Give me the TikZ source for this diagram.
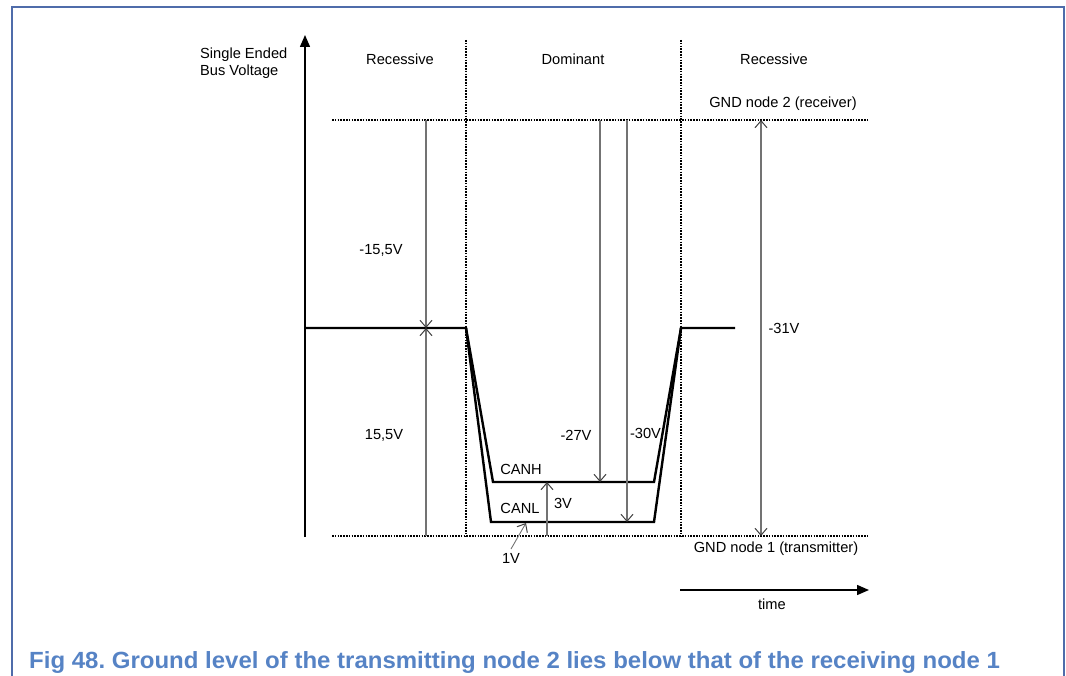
\documentclass[tikz,border=0pt]{standalone}
\usepackage{fontspec}
\setmainfont{Liberation Sans}
\usetikzlibrary{arrows.meta}

\definecolor{framecol}{RGB}{79,108,170}
\definecolor{capcol}{RGB}{86,131,197}
\definecolor{dimcol}{RGB}{115,115,115}

\begin{document}
\begin{tikzpicture}[
  x=1bp, y=-1bp,
  font=\fontsize{14.7}{17}\selectfont,
  % --- line styles ---
  frame/.style={draw=framecol, line width=1.3bp},
  axis/.style={line width=1.5bp, -{Triangle[length=12bp, width=10bp]}},
  level/.style={dash pattern=on 1.6bp off 1.2bp, line width=1.2bp},
  sig/.style={line width=2.4bp, line join=miter},
  dim/.style={draw=dimcol, line width=1.3bp},
  tip/.style={-{Straight Barb[length=7bp, width=12bp, line width=1bp, color=black!75]}},
  tips/.style={{Straight Barb[length=7bp, width=12bp, line width=1bp, color=black!75]}-{Straight Barb[length=7bp, width=12bp, line width=1bp, color=black!75]}},
  lbl/.style={inner sep=0pt},
]
\useasboundingbox (0,0) rectangle (1066,676);

% ══════════════════════════════════════════════
% FRAME AND CAPTION
% ══════════════════════════════════════════════

\coordinate (fbl) at (12,676);
\coordinate (ftr) at (1064,7);
\draw[frame] (fbl) |- (ftr) -- (ftr |- fbl);

\node[lbl, anchor=base west, text=capcol,
  font=\fontsize{23.5}{25}\bfseries\frenchspacing] (cap) at (29,668)
  {\scalebox{1.025}[1]{Fig 48. Ground level of the transmitting node 2 lies below that of the receiving node 1}};

% ══════════════════════════════════════════════
% AXES AND REFERENCE LEVELS
% ══════════════════════════════════════════════

\coordinate (ybot) at (305,537);
\coordinate (ytop) at (305,35);
\draw[axis] (ybot) -- (ytop);
\node[lbl, align=left, anchor=west] (ylab) at (200,63)
  {Single Ended\\Bus Voltage};

% ground levels
\coordinate (g2l) at (332,120);
\coordinate (g2r) at (869,120);
\coordinate (g1l) at (332,536);
\coordinate (g1r) at (869,536);
\draw[level] (g2l) -- (g2r);
\draw[level] (g1l) -- (g1r);
\node[lbl] (g2lab) at (783,104) {GND node 2 (receiver)};
\node[lbl] (g1lab) at (776,549) {GND node 1 (transmitter)};

% phase borders
\coordinate (b1) at (466,40);
\coordinate (b2) at (681,40);
\draw[level] (b1) -- (b1 |- g1l);
\draw[level] (b2) -- (b2 |- g1l);
\node[lbl] (rec1) at (400,59) {Recessive};
\node[lbl] (dom)  at (573,59) {Dominant};
\node[lbl] (rec2) at (774,59) {Recessive};

% time arrow
\coordinate (t0) at (680,590);
\coordinate (t1) at (869,590);
\draw[axis] (t0) -- (t1);
\node[lbl] (tlab) at (772,604) {time};

% ══════════════════════════════════════════════
% BUS SIGNALS
% ══════════════════════════════════════════════

\coordinate (r0) at (305,328);
\coordinate (r1) at (466,328);
\coordinate (r2) at (681,328);
\coordinate (r3) at (735,328);
\coordinate (h1) at (493,482);
\coordinate (h2) at (654,482);
\coordinate (l1) at (491,522);
\coordinate (l2) at (654,522);

\draw[sig] (r0) -- (r1) -- (h1) -- (h2) -- (r2) -- (r3);
\draw[sig] (r1) -- (l1) -- (l2) -- (r2);
\node[lbl] (canh) at (521,469) {CANH};
\node[lbl] (canl) at (520,508) {CANL};

% ══════════════════════════════════════════════
% VOLTAGE DIMENSIONS
% ══════════════════════════════════════════════

% -15,5V / 15,5V
\coordinate (m15) at (426,328);
\draw[dim, tip] (m15 |- g2l) -- (m15);
\draw[dim, tip] (m15 |- g1l) -- (m15);
\node[lbl] (v155n) at (381,250) {-15,5V};
\node[lbl] (v155p) at (384,435) {15,5V};

% -27V / -30V
\coordinate (m27) at (600,482);
\coordinate (m30) at (627,522);
\draw[dim, tip] (m27 |- g2l) -- (m27);
\draw[dim, tip] (m30 |- g2l) -- (m30);
\node[lbl] (v27) at (576,435) {-27V};
\node[lbl] (v30) at (645.5,433) {-30V};

% -31V
\coordinate (m31) at (761,328);
\draw[dim, tips] (m31 |- g2l) -- (m31 |- g1l);
\node[lbl] (v31) at (784,328) {-31V};

% 3V
\coordinate (m3) at (547,482);
\draw[dim, tip] (m3 |- g1l) -- (m3);
\node[lbl] (v3) at (563,503) {3V};

% 1V
\coordinate (m1) at (526,523);
\coordinate (m1f) at (511,549);
\draw[dim, tip, line width=0.9bp] (m1f) -- (m1);
\node[lbl] (v1) at (511,558) {1V};

\end{tikzpicture}
\end{document}
